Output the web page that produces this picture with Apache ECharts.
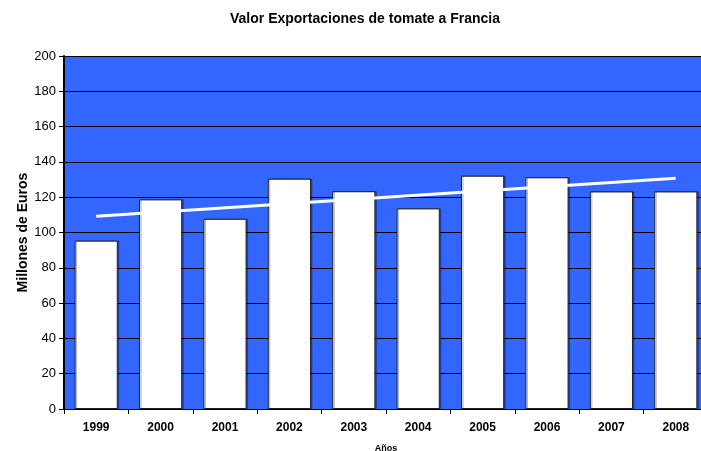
<!DOCTYPE html>
<html>
<head>
<meta charset="utf-8">
<script src="https://cdn.jsdelivr.net/npm/echarts@6/dist/echarts.min.js"></script>
<style>html,body{margin:0;padding:0;background:#fff;}#c{width:701px;height:451px;}</style>
</head>
<body>
<div id="c"></div>
<script>
const years = ['1999','2000','2001','2002','2003','2004','2005','2006','2007','2008'];
const values = [95.4, 118.8, 107.8, 130.5, 123.4, 113.7, 132.2, 131.3, 123.3, 123.3];
const trendStart = [0, 109.2];
const trendEnd = [9, 130.7];
const yTicks = [0, 200, 20];

const chart = echarts.init(document.getElementById('c'));
const font = '"Liberation Sans", Arial, sans-serif';
chart.setOption({
  animation: false,
  backgroundColor: '#fff',
  title: {
    text: 'Valor Exportaciones de tomate a Francia',
    left: 360, top: 7, textAlign: 'center',
    textStyle: {fontFamily: font, fontSize: 14, fontWeight: 'bold', color: '#000'}
  },
  grid: {left: 64, top: 56, width: 644, height: 353, backgroundColor: '#3366FF', show: true, borderWidth: 0,
    containLabel: false, outerBoundsMode: 'none'},
  xAxis: {
    type: 'category', data: years,
    name: 'Años', nameLocation: 'middle', nameGap: 35, nameMoveOverlap: false,
    nameTextStyle: {fontFamily: font, fontSize: 9, fontWeight: 'bold', color: '#000'},
    axisLine: {lineStyle: {color: '#000', width: 1}},
    axisTick: {show: true, length: 5, lineStyle: {color: '#000'}},
    axisLabel: {fontFamily: font, fontSize: 12, fontWeight: 'bold', color: '#000', margin: 13},
    splitLine: {show: false}
  },
  yAxis: {
    type: 'value', min: yTicks[0], max: yTicks[1], interval: yTicks[2],
    name: 'Millones de Euros', nameLocation: 'middle', nameGap: 34, nameMoveOverlap: false,
    nameTextStyle: {fontFamily: font, fontSize: 14, fontWeight: 'bold', color: '#000'},
    axisLine: {show: true, lineStyle: {color: '#000', width: 2}},
    axisTick: {show: true, length: 5, lineStyle: {color: '#000'}},
    axisLabel: {fontFamily: font, fontSize: 13, color: '#000', margin: 8},
    splitLine: {show: true, lineStyle: {color: '#000', width: 1}}
  },
  series: [
    {
      type: 'bar', data: values, barCategoryGap: '33%',
      itemStyle: {color: '#fff', borderColor: '#222', borderWidth: 1,
        shadowColor: 'rgba(0,0,0,0.3)', shadowOffsetX: 1.5, shadowOffsetY: 0, shadowBlur: 0}
    },
    {
      type: 'line', data: [trendStart, trendEnd], showSymbol: false, symbol: 'none',
      lineStyle: {color: '#fff', width: 3}, z: 5
    }
  ]
});
</script>
</body>
</html>
